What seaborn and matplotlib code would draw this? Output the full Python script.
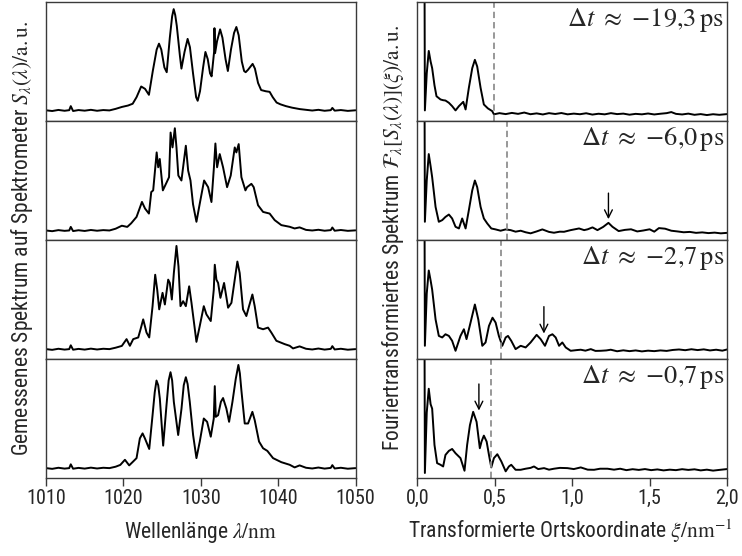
import numpy as np
import pandas as pd
import matplotlib.pyplot as plt
import seaborn as sns

# spectra (left column), wavelength in nm, intensity in a.u.
lam1 = [1010.0, 1010.8, 1011.6, 1012.4, 1013.0, 1013.2, 1013.5, 1014.2, 1015.0, 1015.8, 1016.6, 1017.4,
        1018.2, 1019.0, 1019.8, 1020.6, 1021.2, 1021.7, 1022.3, 1022.8, 1023.3, 1023.8, 1024.3, 1024.6,
        1024.9, 1025.3, 1025.6, 1026.0, 1026.3, 1026.5, 1026.7, 1026.9, 1027.3, 1027.5, 1027.9, 1028.3,
        1028.6, 1029.0, 1029.4, 1029.6, 1029.9, 1030.3, 1030.6, 1030.9, 1031.2, 1031.4, 1031.72, 1031.77,
        1031.85, 1032.1, 1032.5, 1032.8, 1033.2, 1033.5, 1033.9, 1034.3, 1034.6, 1034.9, 1035.3, 1035.6,
        1035.8, 1036.1, 1036.7, 1037.0, 1037.4, 1037.8, 1038.4, 1038.9, 1039.3, 1039.8, 1040.3, 1041.0,
        1041.8, 1042.8, 1043.6, 1044.4, 1045.2, 1046.0, 1046.8, 1047.0, 1047.3, 1048.1, 1049.0, 1050.0]
spec1 = [0.090, 0.084, 0.093, 0.086, 0.091, 0.125, 0.084, 0.092, 0.087, 0.094, 0.086, 0.092,
         0.089, 0.102, 0.118, 0.130, 0.145, 0.20, 0.29, 0.27, 0.22, 0.42, 0.60, 0.65,
         0.60, 0.45, 0.41, 0.70, 0.88, 0.94, 0.89, 0.80, 0.55, 0.44, 0.58, 0.69,
         0.62, 0.40, 0.20, 0.17, 0.25, 0.45, 0.58, 0.52, 0.40, 0.375, 0.58, 0.78,
         0.57, 0.67, 0.77, 0.70, 0.52, 0.42, 0.60, 0.74, 0.79, 0.72, 0.50, 0.42,
         0.41, 0.43, 0.48, 0.44, 0.32, 0.26, 0.25, 0.245, 0.20, 0.155, 0.14, 0.125,
         0.112, 0.100, 0.094, 0.088, 0.094, 0.086, 0.091, 0.11, 0.087, 0.092, 0.085, 0.090]

lam2 = [1010.0, 1010.8, 1011.6, 1012.4, 1013.0, 1013.2, 1013.5, 1014.2, 1015.0, 1015.8, 1016.6, 1017.4,
        1018.2, 1019.0, 1019.8, 1020.5, 1021.0, 1021.7, 1022.4, 1022.8, 1023.3, 1023.6, 1023.85, 1024.3,
        1024.5, 1024.7, 1025.1, 1025.6, 1025.9, 1026.1, 1026.35, 1026.65, 1026.86, 1027.1, 1027.5, 1028.07,
        1028.37, 1028.67, 1029.0, 1029.44, 1029.87, 1030.43, 1030.95, 1031.38, 1031.7, 1031.89, 1032.11,
        1032.45, 1032.88, 1033.4, 1033.87, 1034.39, 1034.6, 1034.9, 1035.25, 1035.77, 1035.98, 1036.54,
        1036.84, 1037.4, 1038.05, 1038.9, 1039.55, 1040.41, 1041.49, 1042.13, 1042.77, 1043.6, 1044.4,
        1045.2, 1046.0, 1046.8, 1047.0, 1047.3, 1048.1, 1049.0, 1050.0]
spec2 = [0.080, 0.074, 0.083, 0.077, 0.080, 0.110, 0.075, 0.082, 0.076, 0.084, 0.078, 0.083,
         0.080, 0.095, 0.12, 0.11, 0.14, 0.194, 0.32, 0.264, 0.222, 0.403, 0.417, 0.736,
         0.611, 0.681, 0.417, 0.486, 0.528, 0.903, 0.778, 0.939, 0.778, 0.542, 0.50, 0.792,
         0.583, 0.50, 0.30, 0.153, 0.306, 0.50, 0.444, 0.319, 0.611, 0.811, 0.611,
         0.722, 0.611, 0.444, 0.542, 0.778, 0.736, 0.806, 0.528, 0.417, 0.444, 0.472,
         0.444, 0.292, 0.236, 0.222, 0.167, 0.125, 0.111, 0.097, 0.106, 0.085, 0.080,
         0.086, 0.078, 0.083, 0.105, 0.078, 0.084, 0.077, 0.081]

lam3 = [1010.0, 1010.8, 1011.6, 1012.4, 1013.0, 1013.2, 1013.5, 1014.2, 1015.0, 1015.8, 1016.6, 1017.4,
        1018.2, 1019.0, 1019.8, 1020.41, 1020.84, 1021.27, 1021.92, 1022.22, 1022.56, 1022.99, 1023.34,
        1023.77, 1024.11, 1024.37, 1024.63, 1025.06, 1025.36, 1025.79, 1026.0, 1026.26, 1026.52, 1026.86,
        1027.12, 1027.38, 1027.72, 1028.07, 1028.5, 1028.8, 1029.44, 1029.87, 1030.39, 1030.73, 1031.29,
        1031.68, 1031.81, 1032.02, 1032.24, 1032.54, 1033.01, 1033.53, 1033.96, 1034.39, 1034.73, 1035.03,
        1035.46, 1035.89, 1036.24, 1036.67, 1036.97, 1037.4, 1038.05, 1038.69, 1039.12, 1039.77, 1040.84,
        1041.49, 1041.92, 1042.77, 1043.6, 1044.4, 1045.2, 1046.0, 1046.8, 1047.0, 1047.3, 1048.1, 1049.0,
        1050.0]
spec3 = [0.083, 0.077, 0.086, 0.079, 0.083, 0.115, 0.078, 0.085, 0.079, 0.087, 0.080, 0.086,
         0.083, 0.095, 0.11, 0.167, 0.111, 0.167, 0.181, 0.25, 0.333, 0.222, 0.181,
         0.444, 0.708, 0.583, 0.417, 0.556, 0.458, 0.667, 0.639, 0.50, 0.722, 0.95,
         0.778, 0.444, 0.486, 0.444, 0.611, 0.472, 0.144, 0.278, 0.444, 0.375, 0.319,
         0.583, 0.792, 0.667, 0.639, 0.514, 0.639, 0.431, 0.472, 0.667, 0.819, 0.722,
         0.417, 0.361, 0.444, 0.542, 0.444, 0.264, 0.25, 0.264, 0.222, 0.153, 0.125,
         0.111, 0.089, 0.106, 0.086, 0.080, 0.088, 0.079, 0.085, 0.108, 0.080, 0.086, 0.078,
         0.083]

lam4 = [1010.0, 1010.8, 1011.6, 1012.4, 1013.0, 1013.2, 1013.5, 1014.2, 1015.0, 1015.8, 1016.6, 1017.4,
        1018.2, 1019.0, 1019.6, 1020.2, 1020.75, 1021.27, 1021.7, 1022.13, 1022.48, 1022.78, 1023.34,
        1023.77, 1024.05, 1024.28, 1024.5, 1024.71, 1025.14, 1025.57, 1025.85, 1026.09, 1026.3, 1026.52,
        1027.08, 1027.51, 1027.8, 1028.07, 1028.3, 1028.58, 1029.01, 1029.44, 1029.87, 1030.39, 1030.82,
        1031.29, 1031.68, 1031.81, 1031.94, 1032.24, 1032.6, 1032.88, 1033.31, 1033.66, 1034.09, 1034.52,
        1034.86, 1035.05, 1035.25, 1035.68, 1036.11, 1036.67, 1036.97, 1037.53, 1038.05, 1038.6, 1039.34,
        1040.41, 1041.49, 1042.13, 1042.77, 1043.6, 1044.4, 1045.2, 1046.0, 1046.8, 1047.0, 1047.3, 1048.1,
        1049.0, 1050.0]
spec4 = [0.083, 0.077, 0.086, 0.079, 0.083, 0.115, 0.078, 0.085, 0.079, 0.087, 0.080, 0.086,
         0.083, 0.095, 0.11, 0.153, 0.106, 0.139, 0.167, 0.333, 0.375, 0.333, 0.244,
         0.528, 0.72, 0.819, 0.78, 0.667, 0.272, 0.611, 0.82, 0.889, 0.82, 0.639,
         0.361, 0.583, 0.78, 0.847, 0.79, 0.639, 0.361, 0.167, 0.306, 0.50, 0.472,
         0.347, 0.50, 0.772, 0.514, 0.528, 0.64, 0.672, 0.583, 0.472, 0.639, 0.833,
         0.95, 0.88, 0.736, 0.458, 0.458, 0.556, 0.486, 0.306, 0.25, 0.228, 0.167,
         0.133, 0.111, 0.089, 0.106, 0.086, 0.080, 0.088, 0.079, 0.085, 0.108, 0.080, 0.086,
         0.078, 0.083]

# Fourier transforms (right column), xi in 1/nm
xi1 = [0.040, 0.048, 0.060, 0.073, 0.085, 0.095, 0.110, 0.123, 0.149, 0.165, 0.181, 0.203, 0.224,
       0.246, 0.268, 0.296, 0.311, 0.332, 0.354, 0.371, 0.386, 0.408, 0.429, 0.455, 0.483, 0.494,
       0.53, 0.57, 0.61, 0.65, 0.69, 0.73, 0.77, 0.81, 0.85, 0.89, 0.93, 0.97, 1.01, 1.05, 1.09,
       1.13, 1.17, 1.21, 1.25, 1.29, 1.33, 1.37, 1.41, 1.45, 1.49, 1.53, 1.57, 1.61, 1.64, 1.67,
       1.71, 1.75, 1.79, 1.83, 1.87, 1.91, 1.95, 2.00]
ft1 = [4.0, 0.089, 0.40, 0.589, 0.50, 0.444, 0.30, 0.208, 0.181, 0.175, 0.172, 0.153, 0.125,
       0.089, 0.125, 0.161, 0.097, 0.278, 0.444, 0.514, 0.458, 0.278, 0.139, 0.106, 0.083, 0.056,
       0.066, 0.058, 0.068, 0.060, 0.071, 0.057, 0.064, 0.055, 0.066, 0.059, 0.067, 0.056, 0.062, 0.057, 0.065,
       0.054, 0.061, 0.056, 0.066, 0.058, 0.062, 0.053, 0.060, 0.056, 0.063, 0.055, 0.061, 0.066, 0.075, 0.060,
       0.055, 0.062, 0.052, 0.058, 0.050, 0.057, 0.052, 0.058]

xi2 = [0.040, 0.048, 0.060, 0.073, 0.085, 0.095, 0.117, 0.138, 0.160, 0.181, 0.203, 0.224, 0.246,
       0.268, 0.289, 0.311, 0.332, 0.354, 0.371, 0.386, 0.408, 0.429, 0.451, 0.477, 0.505, 0.537,
       0.570, 0.602, 0.634, 0.667, 0.699, 0.731, 0.77, 0.807, 0.85, 0.882, 0.92, 0.947, 0.990, 1.044,
       1.077, 1.10, 1.131, 1.163, 1.20, 1.234, 1.26, 1.30, 1.34, 1.38, 1.42, 1.46, 1.50, 1.53, 1.56,
       1.60, 1.64, 1.68, 1.72, 1.76, 1.80, 1.84, 1.88, 1.92, 1.96, 2.00]
ft2 = [4.0, 0.153, 0.50, 0.722, 0.62, 0.528, 0.278, 0.153, 0.167, 0.194, 0.214, 0.181, 0.111,
       0.097, 0.181, 0.097, 0.25, 0.417, 0.50, 0.444, 0.278, 0.181, 0.139, 0.097, 0.089, 0.078,
       0.089, 0.083, 0.070, 0.078, 0.065, 0.056, 0.072, 0.089, 0.068, 0.061, 0.070, 0.069, 0.083, 0.097,
       0.083, 0.09, 0.106, 0.083, 0.11, 0.144, 0.111, 0.075, 0.085, 0.090, 0.072, 0.080, 0.090, 0.070, 0.100,
       0.095, 0.078, 0.072, 0.065, 0.068, 0.060, 0.064, 0.058, 0.062, 0.056, 0.060]

xi3 = [0.040, 0.048, 0.060, 0.073, 0.085, 0.095, 0.117, 0.138, 0.160, 0.181, 0.203, 0.224, 0.246,
       0.278, 0.300, 0.317, 0.343, 0.371, 0.393, 0.419, 0.440, 0.462, 0.485, 0.505, 0.526, 0.548,
       0.570, 0.585, 0.606, 0.634, 0.667, 0.699, 0.731, 0.770, 0.796, 0.824, 0.850, 0.872, 0.893, 0.915,
       0.936, 0.958, 0.990, 1.030, 1.055, 1.085, 1.120, 1.15, 1.184, 1.22, 1.249, 1.29, 1.33, 1.37,
       1.41, 1.45, 1.49, 1.53, 1.57, 1.61, 1.65, 1.69, 1.73, 1.77, 1.81, 1.85, 1.89, 1.93, 1.97, 2.00]
ft3 = [4.0, 0.111, 0.55, 0.744, 0.66, 0.583, 0.333, 0.194, 0.181, 0.208, 0.194, 0.153, 0.069,
       0.194, 0.25, 0.167, 0.306, 0.458, 0.333, 0.111, 0.139, 0.278, 0.347, 0.306, 0.194, 0.111,
       0.181, 0.194, 0.153, 0.083, 0.111, 0.097, 0.139, 0.203, 0.167, 0.111, 0.194, 0.208, 0.181, 0.111,
       0.139, 0.097, 0.069, 0.075, 0.078, 0.070, 0.083, 0.068, 0.069, 0.072, 0.078, 0.065, 0.073, 0.066,
       0.072, 0.064, 0.070, 0.066, 0.072, 0.068, 0.076, 0.080, 0.074, 0.082, 0.075, 0.081, 0.072, 0.078, 0.070, 0.080]

xi4 = [0.040, 0.048, 0.060, 0.073, 0.085, 0.095, 0.110, 0.127, 0.149, 0.166, 0.181, 0.203, 0.224,
       0.246, 0.278, 0.304, 0.321, 0.339, 0.360, 0.382, 0.403, 0.414, 0.429, 0.447, 0.462, 0.477,
       0.494, 0.516, 0.542, 0.570, 0.591, 0.606, 0.634, 0.667, 0.699, 0.731, 0.753, 0.78, 0.818, 0.85,
       0.882, 0.92, 0.969, 1.01, 1.055, 1.10, 1.141, 1.18, 1.228, 1.27, 1.31, 1.35, 1.39, 1.43, 1.47,
       1.51, 1.55, 1.59, 1.63, 1.67, 1.71, 1.75, 1.79, 1.83, 1.87, 1.91, 1.95, 2.00]
ft4 = [4.0, 0.042, 0.55, 0.75, 0.62, 0.583, 0.278, 0.125, 0.111, 0.097, 0.194, 0.228, 0.244,
       0.208, 0.167, 0.061, 0.278, 0.444, 0.556, 0.472, 0.25, 0.306, 0.356, 0.306, 0.194, 0.089,
       0.167, 0.20, 0.139, 0.056, 0.097, 0.111, 0.069, 0.069, 0.078, 0.085, 0.097, 0.075, 0.083, 0.070,
       0.078, 0.085, 0.083, 0.075, 0.089, 0.070, 0.069, 0.078, 0.078, 0.070, 0.078, 0.066, 0.074, 0.068, 0.075,
       0.066, 0.072, 0.064, 0.070, 0.066, 0.074, 0.068, 0.073, 0.064, 0.070, 0.062, 0.068, 0.075]

delays = ["19{,}3", "6{,}0", "2{,}7", "0{,}7"]
cutoffs = [0.492, 0.576, 0.537, 0.478]
# arrow: (xi, tail, tip) or None
arrows = [None, (1.234, 0.394, 0.175), (0.817, 0.44, 0.214), (0.397, 0.79, 0.567)]

lams = [lam1, lam2, lam3, lam4]
specs = [spec1, spec2, spec3, spec4]
xis = [xi1, xi2, xi3, xi4]
fts = [ft1, ft2, ft3, ft4]

sns.set_style("ticks")
plt.rcParams['font.family'] = ['Roboto Condensed', 'Roboto', 'DejaVu Sans']
plt.rcParams['mathtext.fontset'] = 'stix'

fig, axes = plt.subplots(4, 2, figsize=(7.42, 5.56), dpi=100)
fig.subplots_adjust(left=46/742, right=727/742, top=1-2/556, bottom=1-478/556,
                    hspace=0, wspace=0.2)

for i in range(4):
    axl = axes[i, 0]
    axr = axes[i, 1]
    dl = pd.DataFrame({'x': lams[i], 'y': specs[i]})
    dr = pd.DataFrame({'x': xis[i], 'y': fts[i]})
    sns.lineplot(data=dl, x='x', y='y', ax=axl, color='black', lw=1.4, sort=False, estimator=None)
    sns.lineplot(data=dr, x='x', y='y', ax=axr, color='black', lw=1.4, sort=False, estimator=None)
    axl.set_xlim(1010, 1050)
    axr.set_xlim(0, 2.0)
    axr.axvline(cutoffs[i], color='#909090', lw=1.3, dashes=(3.5, 2.2))
    axr.text(0.99, 0.965, r'$\Delta t\ \approx\ {-}' + delays[i] + r'\,\mathrm{ps}$',
             transform=axr.transAxes, ha='right', va='top', fontsize=19)
    if arrows[i] is not None:
        xa, y0, y1 = arrows[i]
        axr.annotate('', xy=(xa, y1), xytext=(xa, y0),
                     arrowprops=dict(arrowstyle='->', color='black', lw=1.0, mutation_scale=14,
                                     shrinkA=0, shrinkB=0))
    for ax in (axl, axr):
        ax.set_ylim(0, 1)
        ax.set_xlabel('')
        ax.set_ylabel('')
        ax.set_yticks([])
        for sp in ax.spines.values():
            sp.set_visible(True)
            sp.set_color('#3a3a3a')
            sp.set_linewidth(1.0)
        if i < 3:
            ax.tick_params(axis='x', bottom=False, labelbottom=False)
        else:
            ax.tick_params(axis='x', direction='out', length=6, width=1.0, color='#3a3a3a',
                           labelsize=14.5, pad=2)

axes[3, 0].set_xticks([1010, 1020, 1030, 1040, 1050])
axes[3, 1].set_xticks([0, 0.5, 1.0, 1.5, 2.0])
axes[3, 1].set_xticklabels(['0,0', '0,5', '1,0', '1,5', '2,0'])

fs_lab = 15.5
fig.text(201/742, 1-538/556, r'Wellenlänge $\lambda/\mathrm{nm}$',
         ha='center', va='baseline', fontsize=fs_lab)
fig.text(570/742, 1-538/556, r'Transformierte Ortskoordinate $\xi/\mathrm{nm}^{-1}$',
         ha='center', va='baseline', fontsize=fs_lab)

fig.text(28/742, 1-238/556, r'Gemessenes Spektrum auf Spektrometer $S_\lambda(\lambda)/\mathrm{a.u.}$',
         rotation=90, rotation_mode='anchor', ha='center', va='baseline', fontsize=fs_lab)
fig.text(399/742, 1-238/556, r'Fouriertransformiertes Spektrum $\mathcal{F}_\lambda[S_\lambda(\lambda)](\xi)/\mathrm{a.u.}$',
         rotation=90, rotation_mode='anchor', ha='center', va='baseline', fontsize=fs_lab)

plt.savefig('out.png', dpi=100)
